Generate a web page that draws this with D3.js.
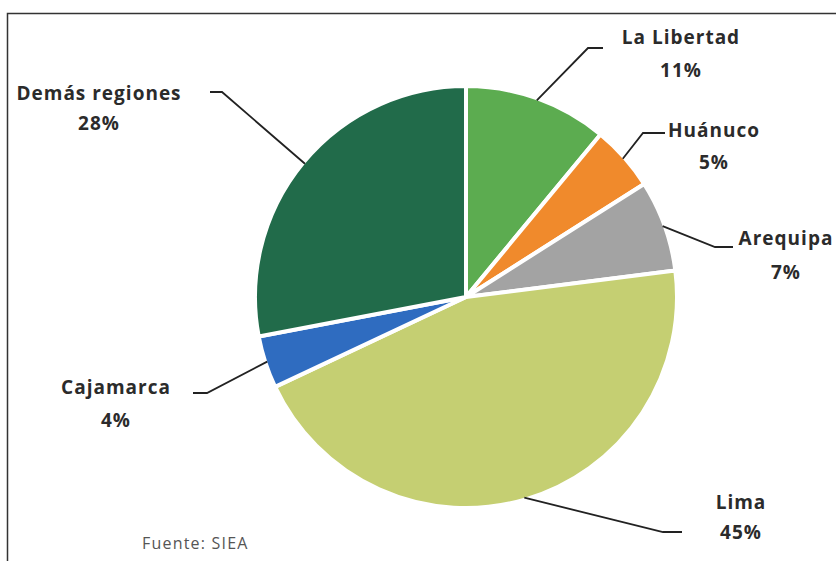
<!DOCTYPE html>
<html>
<head>
<meta charset="utf-8">
<script src="https://cdn.jsdelivr.net/npm/d3@7"></script>
<style>
  body { margin: 0; background: #fff; }
  svg { display: block; }
  .lbl { font-family: "Open Sans", sans-serif; font-weight: 700; fill: #2b2b2b; letter-spacing: 1px; }
</style>
</head>
<body>
<svg id="chart" width="836" height="561"></svg>
<script>
// participación por región (%)
const regiones = ['La Libertad', 'Huánuco', 'Arequipa', 'Lima', 'Cajamarca', 'Demás regiones'];
const valores = [11, 5, 7, 45, 4, 28];
const colores = ['#5cac50', '#f08a2c', '#a3a3a3', '#c5cf72', '#2f6cc0', '#216b4a'];

// dónde van las etiquetas (codo de la línea, fin de la línea, texto)
const etiquetas = {
    'La Libertad':    { codo: [588, 48],  fin: [603, 48],  tx: 681, ty: [37, 70] },
    'Huánuco':        { codo: [643, 133], fin: [665, 133], tx: 714, ty: [130, 162] },
    'Arequipa':       { codo: [715, 247], fin: [733, 247], tx: 786, ty: [238, 272] },
    'Lima':           { codo: [663, 532], fin: [682, 532], tx: 741, ty: [502, 532] },
    'Cajamarca':      { codo: [207, 393], fin: [193, 393], tx: 116, ty: [387, 420] },
    'Demás regiones': { codo: [222, 92],  fin: [210, 92],  tx: 99,  ty: [93, 123] }
};

const data = regiones.map((r, i) => ({ region: r, value: valores[i], color: colores[i] }));

const svg = d3.select('#chart');

// marco
svg.append('path')
    .attr('d', 'M7.5,561 L7.5,13.5 L836,13.5')
    .attr('fill', 'none')
    .attr('stroke', '#333')
    .attr('stroke-width', 1.5);

const cx = 466, cy = 297, radius = 211;

const pie = d3.pie().sort(null).value(d => d.value);
const arc = d3.arc().innerRadius(0).outerRadius(radius);
const arcs = pie(data);

const g = svg.append('g').attr('transform', `translate(${cx},${cy})`);

g.selectAll('path.slice')
    .data(arcs)
    .enter()
    .append('path')
    .classed('slice', true)
    .attr('d', arc)
    .attr('fill', d => d.data.color)
    .attr('stroke', '#fff')
    .attr('stroke-width', 4)
    .attr('stroke-linejoin', 'round');

// líneas guía
const borde = d3.arc().innerRadius(radius - 2).outerRadius(radius - 2);
arcs.forEach(d => {
    const [px, py] = borde.centroid(d);
    const lay = etiquetas[d.data.region];
    svg.append('polyline')
        .attr('points', [[cx + px, cy + py], lay.codo, lay.fin].map(p => p.join(',')).join(' '))
        .attr('fill', 'none')
        .attr('stroke', '#222')
        .attr('stroke-width', 1.8);

    const t = svg.append('text')
        .attr('class', 'lbl')
        .attr('text-anchor', 'middle')
        .style('font-size', '19px');
    t.append('tspan').attr('x', lay.tx).attr('y', lay.ty[0]).attr('dy', '0.35em').text(d.data.region);
    t.append('tspan').attr('x', lay.tx).attr('y', lay.ty[1]).attr('dy', '0.35em').text(d.data.value + '%');
});

svg.append('text')
    .attr('x', 142)
    .attr('y', 543)
    .attr('dy', '0.35em')
    .style('font-family', '"Open Sans", sans-serif')
    .style('font-size', '16px')
    .style('letter-spacing', '1.2px')
    .style('fill', '#555')
    .text('Fuente: SIEA');
</script>
</body>
</html>
